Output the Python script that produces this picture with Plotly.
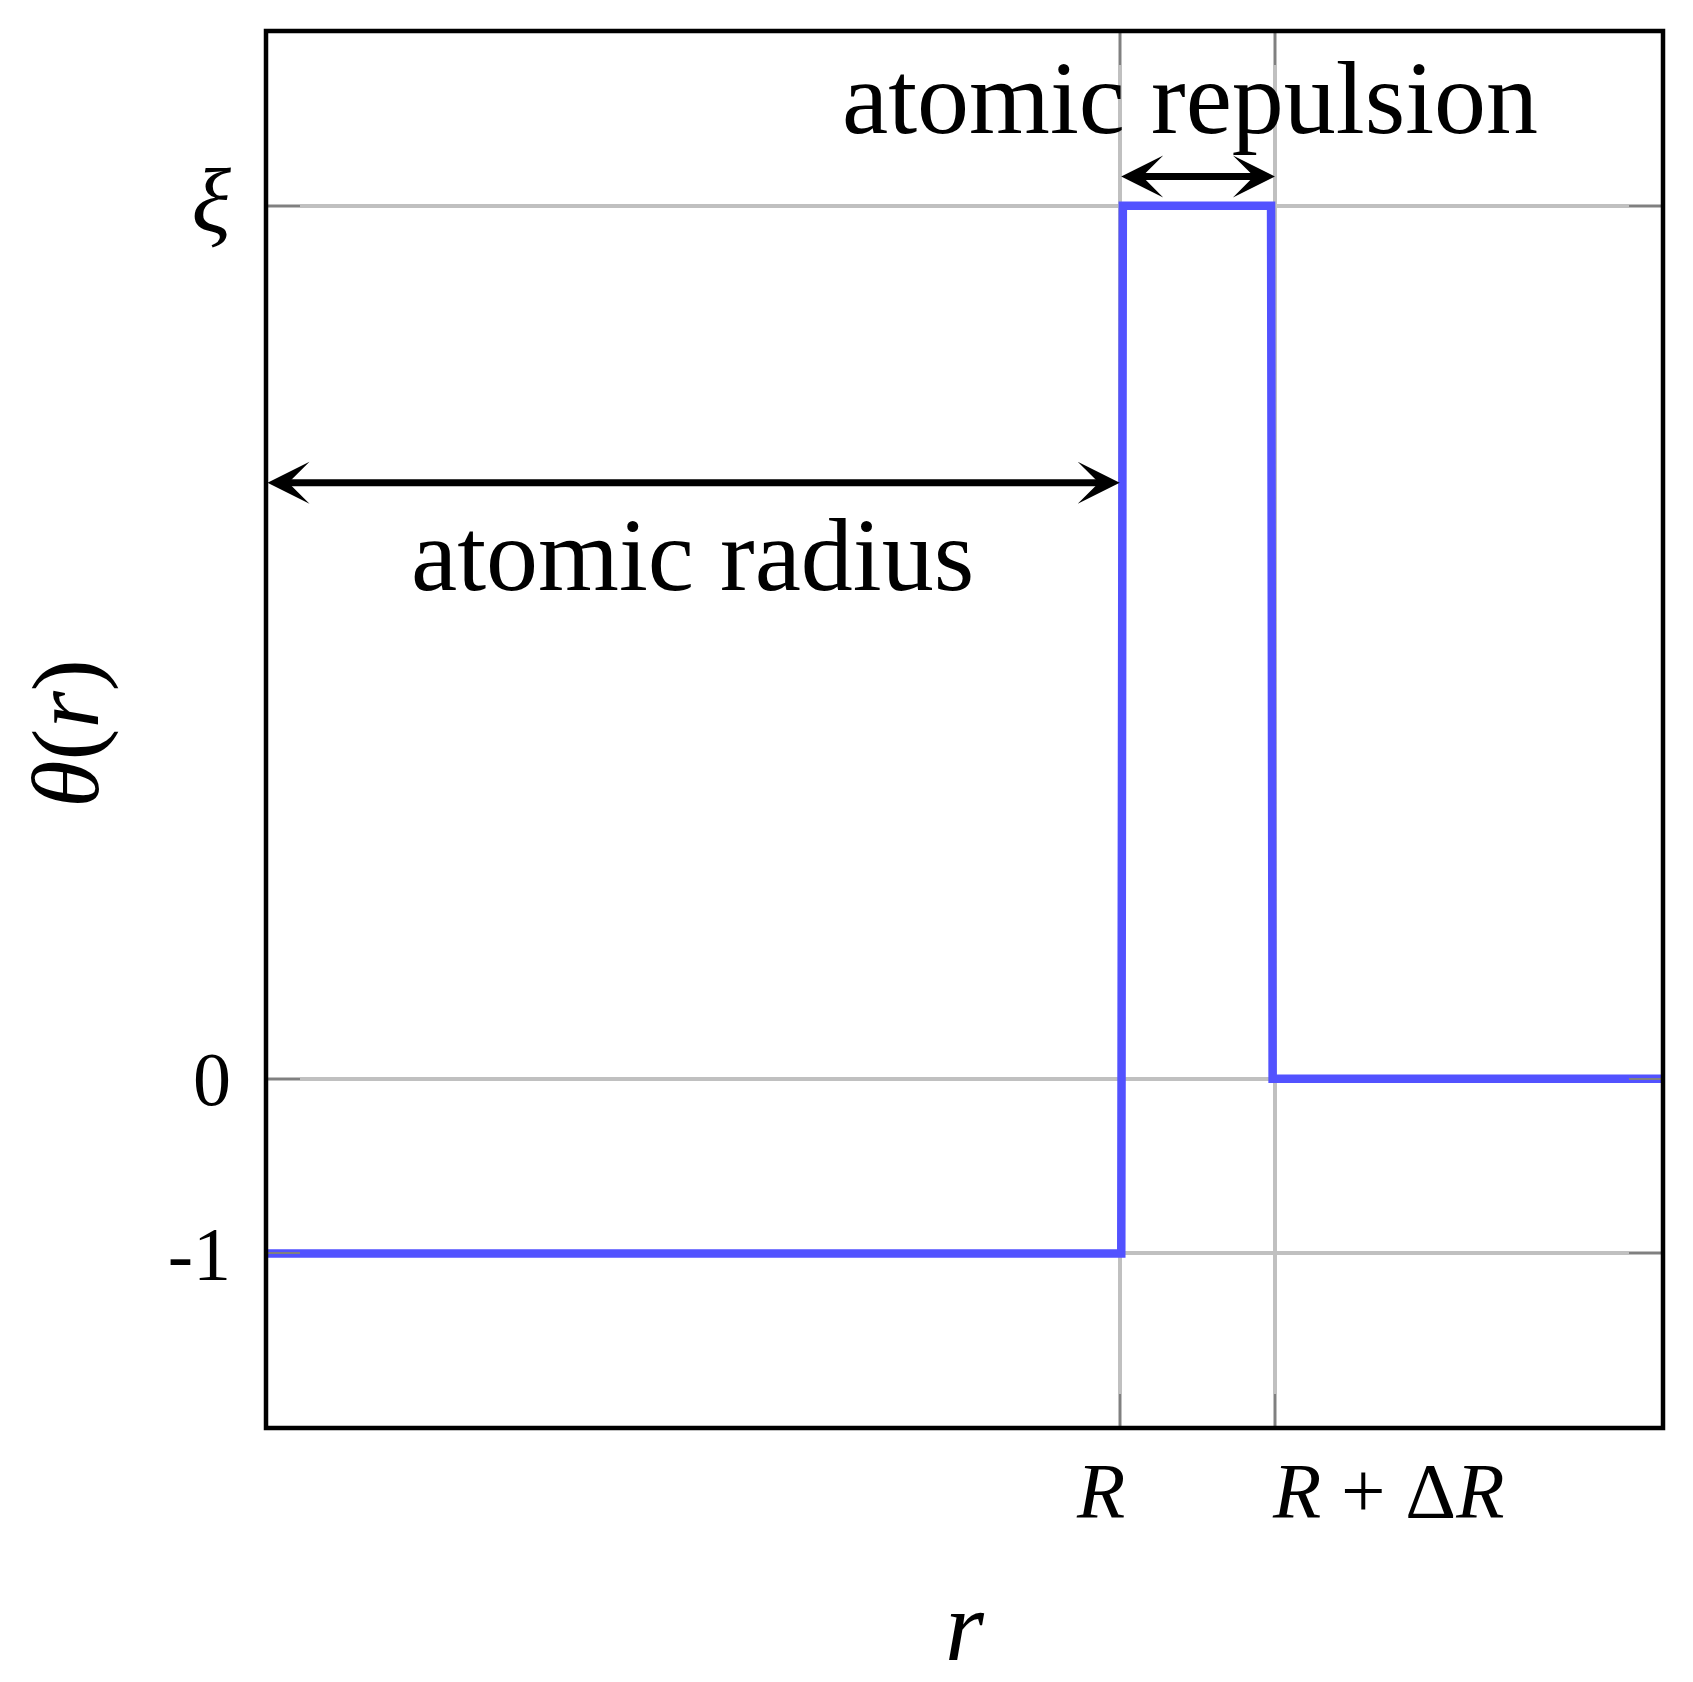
import plotly.graph_objects as go

# ---- data ----
R = 1.1
dR = 0.2
xi = 5
r_vals = [0, 1.102, 1.104, 1.295, 1.297, 1.8]
theta_vals = [-1, -1, 5, 5, 0, 0]
x_range = [0, 1.8]
y_range = [-2, 6]
y_tickvals = [-1, 0, xi]
y_ticktext = ["-1", "0", "<span style='font-size:92px'><i>ξ</i></span>"]
x_tickvals = [R, R + dR]
x_ticktext = ["<i>R</i>", "<i>R</i> + Δ<i>R</i>"]
x_title = "<i>r</i>"
y_title = "<i>θ</i>(<i>r</i>)"

FONT = "Liberation Serif"
BLUE = "#5252ff"
GRID = "#c0c0c0"
TICK = "#808080"

fig = go.Figure()
fig.add_trace(go.Scatter(x=r_vals, y=theta_vals, mode="lines",
                         line=dict(color=BLUE, width=8.5), hoverinfo="skip",
                         showlegend=False, cliponaxis=True))

# page body has an 8px margin, so the figure is drawn 8px in from the corner
fig.update_layout(
    width=1685, height=1674,
    margin=dict(l=258, r=30, t=23, b=254),
    paper_bgcolor="white", plot_bgcolor="white",
    font=dict(family=FONT, color="black"),
    showlegend=False,
)

fig.update_xaxes(range=x_range, tickvals=x_tickvals, ticktext=x_ticktext,
                 showticklabels=False, showgrid=True, gridcolor=GRID, gridwidth=3.5,
                 zeroline=False, showline=False, ticks="inside", ticklen=34,
                 tickwidth=2, tickcolor=TICK, mirror="ticks",
                 title=dict(text=x_title, font=dict(size=100, family=FONT),
                            standoff=166),
                 automargin=False)
fig.update_yaxes(range=y_range, tickvals=y_tickvals, ticktext=y_ticktext,
                 tickfont=dict(size=76, family=FONT), ticklabelstandoff=34,
                 showgrid=True, gridcolor=GRID, gridwidth=3.5,
                 zeroline=False, showline=False, ticks="inside", ticklen=34,
                 tickwidth=2, tickcolor=TICK, mirror="ticks",
                 automargin=False)

# y-axis title, placed as in the reference
fig.add_annotation(x=-0.1432, y=0.497, xref="paper", yref="paper", text=y_title,
                   showarrow=False, textangle=-90, xanchor="center", yanchor="middle",
                   font=dict(size=96, family=FONT))

# frame
fig.add_shape(type="rect", xref="paper", yref="paper", x0=0, y0=0, x1=1, y1=1,
              line=dict(color="black", width=4.5), layer="above")

# x tick labels (placed beside their ticks as in the reference)
fig.add_annotation(x=x_tickvals[0] + 0.01, y=-0.0446, xref="x", yref="paper",
                   text=x_ticktext[0], showarrow=False, xanchor="right", yanchor="middle",
                   font=dict(size=79, family=FONT))
fig.add_annotation(x=x_tickvals[1] - 0.006, y=-0.0446, xref="x", yref="paper",
                   text=x_ticktext[1], showarrow=False, xanchor="left", yanchor="middle",
                   font=dict(size=79, family=FONT))

# arrows
arrow_common = dict(xref="x", yref="y", axref="x", ayref="y", text="",
                    showarrow=True, arrowside="end+start", arrowhead=3,
                    startarrowhead=3, arrowwidth=7, arrowsize=1.0,
                    startarrowsize=1.0, arrowcolor="black", standoff=0,
                    startstandoff=0)
fig.add_annotation(x=R + dR, y=xi + 0.167, ax=R, ay=xi + 0.167, **arrow_common)
fig.add_annotation(x=R, y=3.413, ax=0, ay=3.413, **arrow_common)

# labels
fig.add_annotation(x=1.19, y=5.62, xref="x", yref="y", text="atomic repulsion",
                   showarrow=False, font=dict(size=104, family=FONT))
fig.add_annotation(x=R / 2, y=3.0, xref="x", yref="y", text="atomic radius",
                   showarrow=False, font=dict(size=104, family=FONT))

fig.write_html("out.html")
